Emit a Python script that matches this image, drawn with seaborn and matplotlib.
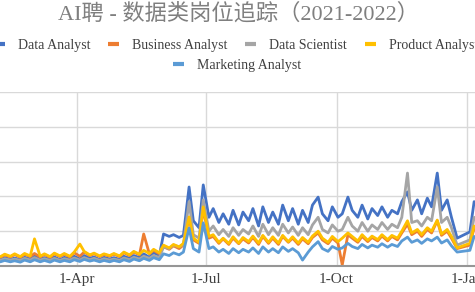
import numpy as np
import pandas as pd
import matplotlib
matplotlib.use("Agg")
import matplotlib.pyplot as plt
from matplotlib.lines import Line2D
import seaborn as sns

# ---------------- data ----------------
series_names = ["Data Analyst", "Business Analyst", "Data Scientist",
                "Product Analyst", "Marketing Analyst"]
series_colors = ["#4472C4", "#ED7D31", "#A5A5A5", "#FFC000", "#5B9BD5"]

# two readings per week (Tuesday, Saturday) Feb 2021 - Dec 2021, then 2 points after the holiday gap
week_starts = pd.date_range("2021-02-02", periods=47, freq="7D")
extra_dates = ["2022-01-03", "2022-01-06"]

data_analyst = [
    22, 18, 24, 19, 23, 18, 25, 20, 30, 20, 24, 19, 26, 18, 25, 20, 28, 20, 30, 22,
    26, 18, 25, 20, 24, 19, 28, 22, 30, 24, 35, 25, 38, 30, 92, 85, 90, 82, 88, 227,
    130, 110, 233, 140, 165, 125, 150, 120, 160, 118, 155, 130, 165, 115, 170, 125, 155, 120, 175, 130,
    165, 120, 160, 125, 175, 198, 150, 130, 170, 140, 150, 198, 160, 140, 175, 135, 165, 145, 170, 140,
    160, 150, 185, 213, 160, 190, 150, 195, 170, 267, 160, 190, 140, 80,
    98, 185]
business_analyst = [
    30, 25, 32, 26, 33, 25, 34, 27, 36, 26, 33, 25, 35, 27, 34, 26, 38, 28, 40, 30,
    35, 27, 33, 28, 34, 27, 38, 30, 40, 32, 92, 35, 45, 35, 55, 48, 58, 50, 60, 140,
    75, 65, 165, 80, 85, 65, 78, 62, 80, 64, 78, 66, 82, 62, 85, 65, 80, 62, 85, 68,
    80, 62, 78, 64, 82, 95, 75, 64, 80, 66, 3, 90, 80, 68, 85, 70, 82, 72, 86, 72,
    85, 75, 95, 120, 90, 100, 85, 105, 95, 130, 88, 100, 80, 50,
    60, 110]
data_scientist = [
    20, 16, 21, 17, 20, 16, 22, 17, 24, 17, 21, 16, 22, 16, 21, 17, 23, 17, 24, 18,
    22, 16, 21, 17, 20, 16, 23, 18, 25, 20, 28, 22, 30, 24, 55, 50, 60, 55, 62, 185,
    90, 80, 190, 100, 115, 90, 105, 85, 110, 88, 105, 92, 115, 85, 120, 90, 110, 88, 120, 95,
    112, 88, 110, 90, 118, 140, 105, 95, 118, 100, 105, 140, 115, 100, 125, 100, 118, 105, 125, 105,
    120, 110, 140, 267, 125, 130, 115, 140, 130, 227, 125, 140, 110, 60,
    75, 140]
product_analyst = [
    32, 27, 34, 28, 35, 27, 36, 29, 78, 28, 35, 27, 37, 29, 36, 28, 40, 63, 42, 32,
    37, 29, 35, 30, 36, 29, 40, 32, 42, 34, 45, 36, 48, 38, 60, 52, 62, 55, 65, 141,
    80, 68, 170, 85, 90, 68, 80, 65, 84, 66, 82, 70, 86, 66, 88, 68, 84, 66, 88, 70,
    84, 66, 82, 68, 86, 100, 80, 68, 85, 70, 80, 95, 85, 72, 90, 74, 86, 76, 90, 76,
    88, 80, 100, 130, 95, 105, 90, 110, 100, 132, 92, 105, 85, 52,
    65, 115]
marketing_analyst = [
    15, 12, 16, 12, 15, 11, 17, 12, 18, 12, 16, 11, 17, 12, 16, 12, 18, 13, 19, 14,
    17, 12, 16, 12, 16, 12, 18, 13, 20, 15, 22, 16, 24, 18, 35, 30, 38, 32, 40, 109,
    50, 40, 124, 50, 55, 40, 48, 36, 50, 38, 48, 40, 52, 36, 55, 40, 50, 38, 55, 42,
    50, 38, 17, 40, 55, 70, 50, 42, 56, 48, 52, 65, 56, 50, 62, 52, 60, 54, 64, 54,
    62, 56, 72, 83, 68, 75, 65, 78, 72, 83, 66, 75, 58, 40,
    45, 85]

tick_dates = ["2021-04-01", "2021-07-01", "2021-10-01", "2022-01-01"]
tick_labels = ["1-Apr", "1-Jul", "1-Oct", "1-Jan"]
title_text = "AI聘 - 数据类岗位追踪（2021-2022）"

# ---------------- build table ----------------
dates = []
for d in week_starts:
    dates.append(d)
    dates.append(d + pd.Timedelta(days=4))
dates += [pd.Timestamp(s) for s in extra_dates]

all_values = [data_analyst, business_analyst, data_scientist,
              product_analyst, marketing_analyst]
frames = []
for name, vals in zip(series_names, all_values):
    frames.append(pd.DataFrame({"date": dates, "value": vals, "series": name}))
df = pd.concat(frames, ignore_index=True)

# ---------------- style ----------------
sns.set_theme(style="white")
plt.rcParams["font.family"] = ["Liberation Serif", "Noto Sans CJK SC", "DejaVu Sans"]

W, H = 475, 292
fig = plt.figure(figsize=(W / 100, H / 100), dpi=100)
fig.patch.set_facecolor("white")

# axes extends past the left/right figure edges (the reference is a crop)
x_left_px, x_right_px = -50.6, 486.9
y_bottom_px = 26
ax = fig.add_axes([x_left_px / W, y_bottom_px / H,
                   (x_right_px - x_left_px) / W, 174 / H])
ax.set_facecolor("white")

sns.lineplot(data=df, x="date", y="value", hue="series",
             hue_order=series_names, palette=series_colors,
             linewidth=2.0, legend=False, ax=ax)

ax.set_xlim(pd.Timestamp("2021-01-01"), pd.Timestamp("2022-01-15"))
ax.set_ylim(0, 500)
ax.set_yticks([0, 100, 200, 300, 400, 500])
ax.set_yticklabels([])
ax.set_xticks([pd.Timestamp(t) for t in tick_dates])
ax.set_xticklabels(tick_labels, fontsize=11, color="#404040")
ax.tick_params(axis="both", length=0, pad=5)
ax.grid(True, color="#D9D9D9", linewidth=1.0)
ax.set_axisbelow(True)
for s in ["top", "left", "right"]:
    ax.spines[s].set_visible(False)
ax.spines["bottom"].set_color("#969696")
ax.spines["bottom"].set_linewidth(1.5)
ax.set_xlabel("")
ax.set_ylabel("")

# title
fig.text(238 / W, 1 - 14 / H, title_text, ha="center", va="center",
         fontsize=16, color="#7F7F7F")

# legends
handles = [Line2D([], [], color=c, linewidth=3.0, solid_capstyle="butt")
           for c in series_colors]
leg1 = fig.legend(handles[:4], series_names[:4], loc="center",
                  bbox_to_anchor=(236 / W, 1 - 45 / H), ncol=4, frameon=False,
                  fontsize=10, handlelength=0.8, handletextpad=0.95,
                  columnspacing=1.25, borderpad=0, labelcolor="#404040")
leg2 = fig.legend(handles[4:], series_names[4:], loc="center",
                  bbox_to_anchor=(237 / W, 1 - 65 / H), ncol=1, frameon=False,
                  fontsize=10, handlelength=0.8, handletextpad=0.95,
                  borderpad=0, labelcolor="#404040")

fig.savefig("out.png", dpi=100, facecolor="white")
